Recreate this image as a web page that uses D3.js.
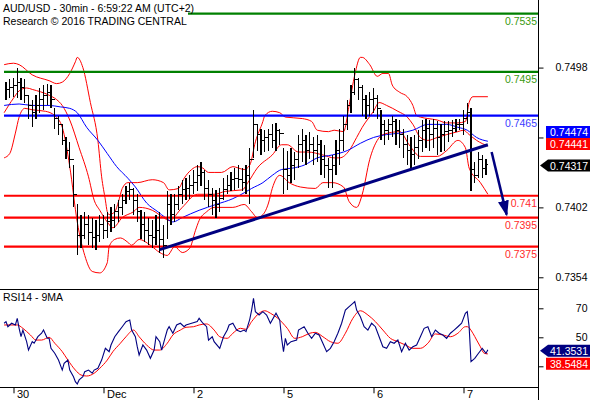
<!DOCTYPE html>
<html><head><meta charset="utf-8">
<script src="https://cdn.jsdelivr.net/npm/d3@7"></script>
<style>
html,body{margin:0;padding:0;background:#fff;}
svg{display:block;font-family:"Liberation Sans",Arial,sans-serif;}
</style></head><body>
<svg id="c" width="590" height="400"></svg>
<script>
// ---------- DATA (hourly index 0 = Nov 29 22:00) ----------
const titleLine1 = "AUD/USD - 30min - 6:59:22 AM (UTC+2)";
const titleLine2 = "Research \u00A9 2016 TRADING CENTRAL";
const rsiTitle = "RSI14 - 9MA";
const dayTicks = [2, 26, 50, 74, 98, 122];
const dayLabels = ["30", "Dec", "2", "5", "6", "7"];

const high = [0.7488,0.7490,0.7491,0.7498,0.7491,0.7490,0.7479,0.7476,0.7479,0.7484,
0.7486,0.7487,0.7486,0.7470,0.7465,0.7459,0.7450,0.7447,0.7431,0.7404,
0.7397,0.7399,0.7397,0.7395,0.7393,0.7397,0.7397,0.7399,0.7402,0.7404,
0.7407,0.7411,0.7417,0.7419,0.7415,0.7411,0.7400,0.7399,0.7395,0.7393,
0.7397,0.7399,0.7390,0.7413,0.7411,0.7411,0.7417,0.7421,0.7422,0.7424,
0.7428,0.7431,0.7433,0.7428,0.7421,0.7415,0.7414,0.7415,0.7422,0.7424,
0.7426,0.7429,0.7431,0.7429,0.7431,0.7443,0.7469,0.7459,0.7456,0.7455,
0.7456,0.7459,0.7460,0.7456,0.7443,0.7441,0.7443,0.7440,0.7452,0.7456,
0.7452,0.7454,0.7450,0.7452,0.7448,0.7445,0.7436,0.7438,0.7448,0.7456,
0.7465,0.7476,0.7486,0.7498,0.7491,0.7486,0.7479,0.7481,0.7484,0.7479,
0.7469,0.7462,0.7463,0.7465,0.7463,0.7462,0.7456,0.7452,0.7450,0.7452,
0.7455,0.7462,0.7463,0.7462,0.7463,0.7461,0.7459,0.7461,0.7461,0.7462,
0.7463,0.7463,0.7469,0.7474,0.7470,0.7433,0.7440,0.7438,0.7435];
const low = [0.7476,0.7477,0.7478,0.7477,0.7476,0.7474,0.7463,0.7457,0.7463,0.7467,
0.7469,0.7472,0.7470,0.7456,0.7452,0.7445,0.7435,0.7429,0.7402,0.7369,
0.7374,0.7380,0.7376,0.7374,0.7373,0.7378,0.7380,0.7381,0.7385,0.7388,
0.7392,0.7397,0.7404,0.7407,0.7397,0.7392,0.7380,0.7378,0.7376,0.7374,
0.7376,0.7371,0.7367,0.7380,0.7390,0.7392,0.7400,0.7404,0.7407,0.7408,
0.7411,0.7413,0.7417,0.7407,0.7402,0.7397,0.7395,0.7399,0.7407,0.7411,
0.7413,0.7414,0.7415,0.7413,0.7411,0.7404,0.7436,0.7441,0.7438,0.7440,
0.7441,0.7443,0.7441,0.7445,0.7411,0.7414,0.7419,0.7421,0.7429,0.7433,
0.7431,0.7435,0.7431,0.7433,0.7424,0.7422,0.7415,0.7415,0.7424,0.7431,
0.7441,0.7455,0.7467,0.7479,0.7476,0.7465,0.7463,0.7465,0.7467,0.7463,
0.7448,0.7445,0.7448,0.7450,0.7445,0.7443,0.7436,0.7431,0.7429,0.7431,
0.7435,0.7440,0.7443,0.7441,0.7443,0.7438,0.7440,0.7441,0.7447,0.7450,
0.7454,0.7455,0.7452,0.7459,0.7413,0.7419,0.7422,0.7422,0.7424];
const close = [0.7483,0.7484,0.7486,0.7488,0.7484,0.7479,0.7472,0.7467,0.7472,0.7476,
0.7479,0.7481,0.7476,0.7463,0.7459,0.7448,0.7441,0.7435,0.7411,0.7383,
0.7383,0.7390,0.7385,0.7381,0.7383,0.7390,0.7386,0.7392,0.7393,0.7399,
0.7402,0.7407,0.7413,0.7414,0.7407,0.7399,0.7390,0.7386,0.7383,0.7381,
0.7386,0.7380,0.7376,0.7404,0.7397,0.7404,0.7411,0.7414,0.7415,0.7417,
0.7419,0.7424,0.7426,0.7415,0.7411,0.7407,0.7404,0.7408,0.7414,0.7417,
0.7421,0.7422,0.7421,0.7419,0.7424,0.7435,0.7459,0.7452,0.7448,0.7450,
0.7452,0.7448,0.7455,0.7453,0.7428,0.7424,0.7431,0.7435,0.7445,0.7448,
0.7441,0.7445,0.7441,0.7445,0.7435,0.7431,0.7428,0.7431,0.7441,0.7448,
0.7459,0.7472,0.7481,0.7490,0.7484,0.7476,0.7472,0.7476,0.7477,0.7470,
0.7459,0.7455,0.7459,0.7461,0.7455,0.7452,0.7445,0.7441,0.7438,0.7443,
0.7448,0.7455,0.7456,0.7452,0.7456,0.7450,0.7452,0.7454,0.7455,0.7456,
0.7459,0.7459,0.7463,0.7467,0.7428,0.7424,0.7435,0.7429,0.74317];

const bbUpper = [[-0.5,0.7500],[2,0.7501],[3.5,0.7500],[7,0.7493],[11.5,0.7489],[13.5,0.7487],[15,0.7488],[17,0.7494],[18.5,0.7502],[19,0.7505],[20.5,0.7498],[22.5,0.7474],[24.5,0.7448],[25.5,0.7423],[26.5,0.7407],[27,0.7399],[27.5,0.7397],[29,0.7399],[30,0.7406],[31,0.7415],[32.5,0.7419],[35,0.7419],[39,0.7421],[42,0.7419],[43.5,0.7414],[46,0.7415],[47.5,0.7422],[49.5,0.7428],[51,0.7430],[52.5,0.7429],[54,0.7426],[55.5,0.7426],[57.5,0.7426],[60.5,0.7430],[62,0.7429],[63.5,0.7428],[65,0.7431],[66.5,0.7447],[68.5,0.7461],[69,0.7465],[71,0.7468],[73,0.7467],[74.5,0.7464],[79,0.7463],[81.5,0.7461],[83,0.7455],[86,0.7454],[87.5,0.7455],[90,0.7454],[91.5,0.7472],[93,0.7493],[94.5,0.7505],[95,0.7505],[97,0.7500],[99,0.7492],[100.5,0.7494],[102,0.7494],[103,0.7486],[105,0.7481],[107,0.7478],[108.5,0.7472],[109.5,0.7465],[110.5,0.7464],[112.5,0.7463],[115,0.7462],[117.5,0.7460],[120.5,0.7460],[122.5,0.7461],[123.5,0.7474],[124.5,0.7478],[128.5,0.7478]];
const bbMiddle = [[-0.5,0.7467],[2,0.7477],[3.5,0.7482],[5.5,0.7484],[7,0.7483],[11.5,0.7479],[13.5,0.7476],[15,0.7472],[17,0.7462],[19.5,0.7443],[22,0.7423],[23.5,0.7407],[25,0.7400],[27,0.7392],[28.5,0.7388],[31,0.7395],[34,0.7399],[35.5,0.7402],[39,0.7400],[42,0.7395],[43.5,0.7393],[47,0.7402],[51,0.7411],[55.5,0.7411],[58.5,0.7413],[63,0.7414],[64.5,0.7419],[67,0.7429],[71,0.7438],[73.5,0.7445],[75,0.7445],[78,0.7440],[80.5,0.7440],[84.5,0.7438],[87.5,0.7436],[89,0.7436],[91.5,0.7441],[93.5,0.7450],[95,0.7457],[98,0.7468],[99.5,0.7474],[101.5,0.7472],[104.5,0.7468],[107,0.7464],[108.5,0.7459],[110.5,0.7450],[112.5,0.7448],[115,0.7450],[117.5,0.7452],[120.5,0.7454],[122,0.7455],[123.5,0.7452],[125.5,0.7448],[128.5,0.74441]];
const bbLower = [[-0.5,0.7436],[1,0.7439],[2.5,0.7453],[3.5,0.7464],[5,0.7470],[7,0.7469],[10.5,0.7468],[13,0.7465],[15,0.7457],[17,0.7430],[19,0.7392],[21,0.7369],[23,0.7358],[25,0.7357],[27,0.7364],[27.5,0.7375],[29,0.7380],[30.5,0.7381],[32.5,0.7378],[33.5,0.7376],[35.5,0.7380],[38.5,0.7376],[41,0.7371],[43,0.7369],[45,0.7375],[47,0.7371],[49,0.7374],[50.5,0.7386],[51.5,0.7393],[53.5,0.7399],[55.5,0.7402],[60.5,0.7402],[63.5,0.7404],[65.5,0.7399],[67,0.7395],[68.5,0.7397],[70,0.7405],[71,0.7415],[73,0.7424],[75.5,0.7419],[78.5,0.7416],[82.5,0.7415],[84.5,0.7419],[87,0.7419],[90,0.7416],[91.5,0.7406],[93.5,0.7402],[95,0.7411],[97,0.7435],[99,0.7448],[100.5,0.7452],[105,0.7454],[107.5,0.7445],[110.5,0.7437],[115,0.7437],[117.5,0.7441],[120.5,0.7448],[122.5,0.7443],[123.5,0.7429],[126.5,0.7419],[128.5,0.7411]];
const maBlue = [[-0.5,0.7472],[3.5,0.7473],[7,0.7472],[11.5,0.7472],[14.5,0.7471],[17,0.7470],[19,0.7467],[21.5,0.7457],[24.5,0.7448],[27,0.7439],[29.5,0.7430],[32.5,0.7422],[34.5,0.7416],[37.5,0.7405],[40.5,0.7399],[42.5,0.7395],[44.5,0.7392],[47,0.7395],[51.5,0.7400],[56,0.7404],[60.5,0.7408],[63.5,0.7412],[65.5,0.7415],[68.5,0.7419],[71,0.7424],[73.5,0.7428],[76.5,0.7429],[79.5,0.7431],[83,0.7436],[87,0.7438],[91,0.7441],[94.5,0.7446],[98,0.7450],[101.5,0.7452],[105,0.7453],[108.5,0.7455],[112.5,0.7459],[115,0.7459],[117.5,0.7459],[120.5,0.7457],[123,0.7455],[125.5,0.7450],[128.5,0.74474]];

const levelValues = [0.7535, 0.7495, 0.7465, 0.741, 0.7395, 0.7375];
const levelKinds  = ["res", "res", "pivot", "sup", "sup", "sup"];
const priceTicks = [0.7498, 0.7450, 0.7402, 0.7354];
const hiddenPriceLabels = [0.7450];   // covered by value tags in the original
const trendLine = [[41, 0.7373], [128.5, 0.7445]];
const targetArrow = [[129.5, 0.7440], [133.5, 0.7397]];

const rsi = [[-0.5,59.7],[0,60.8],[0.5,57.3],[1.5,59.7],[2.5,58.5],[3,63.1],[3.5,56.2],[4,50.4],[4.5,55.0],[5.5,47.0],[6,41.2],[7,47.0],[7.5,45.9],[8.5,50.4],[9.5,52.8],[10,55.0],[11,49.3],[11.5,49.3],[12,42.4],[13,39.0],[14,34.3],[15,27.4],[15.5,32.1],[16.5,34.3],[17,27.4],[18,22.8],[18.5,19.4],[19,17.8],[19.5,20.6],[20.5,22.8],[21,26.3],[22,27.4],[23,25.2],[23.5,27.4],[24.5,28.6],[25.5,34.3],[26.5,42.4],[27.5,40.1],[28,44.7],[29,50.4],[30,53.9],[31,57.3],[32,60.8],[33,61.9],[33.5,55.0],[34.5,50.4],[35,43.5],[35.5,37.8],[36.5,44.7],[37.5,41.2],[38.5,35.5],[39.5,41.2],[40,50.4],[41,47.0],[41.5,41.2],[42.5,50.4],[43,55.0],[43.5,57.3],[44.5,52.8],[45.5,58.5],[46.5,59.7],[47.5,57.3],[48,58.5],[49.5,59.7],[51,60.8],[51.5,63.1],[52.5,59.7],[53.5,57.3],[54,48.1],[55,50.4],[55.5,47.0],[57,42.4],[58,50.4],[59,55.0],[59.5,58.5],[60.5,59.7],[61.5,55.0],[62.5,53.9],[63.5,55.0],[64,53.9],[65,62.4],[65.5,68.8],[66,76.9],[66.5,67.7],[67.5,65.4],[68.5,67.7],[69.5,65.4],[70.5,59.7],[72,66.6],[73,61.9],[73.5,49.3],[74,40.1],[74.5,49.3],[75,44.7],[76,47.0],[77.5,48.1],[78,55.0],[79.5,57.3],[80.5,52.8],[81.5,49.3],[82.5,52.8],[83.5,51.6],[84.5,45.9],[85.5,40.1],[86.5,42.4],[87.5,47.0],[88.5,52.8],[89.5,59.7],[90.5,68.8],[91.5,71.1],[92.5,73.4],[93,74.6],[93.5,68.8],[94.5,64.2],[95.5,57.3],[96.5,55.0],[97.5,59.7],[98.5,57.3],[99.5,50.4],[100.5,43.5],[101.5,42.4],[102.5,47.0],[103.5,45.9],[104.5,48.1],[105.5,40.1],[106.5,45.9],[107.5,41.2],[108.5,43.5],[109.5,44.7],[110.5,50.4],[111.5,56.2],[112.5,57.3],[113.5,50.4],[114.5,55.0],[115.5,52.8],[116.5,51.6],[117.5,49.3],[118.5,52.8],[119.5,55.0],[120.5,57.3],[121.5,59.7],[122.5,66.6],[123,67.7],[123.5,57.3],[124,33.2],[125,35.5],[126,39.0],[127,42.4],[128,39.0],[128.5,41.3531]];
const rsiMA = [[-0.5,58.5],[3,58.5],[4.5,56.2],[6.5,51.6],[8,48.1],[9.5,48.1],[11.5,50.0],[13,45.9],[15,40.1],[16.5,34.3],[18.5,27.4],[20,24.0],[21.5,23.3],[23.5,25.2],[25,28.6],[27,34.3],[28.5,40.1],[30.5,45.9],[32,50.4],[34,55.0],[35.5,50.4],[37.5,44.7],[39.5,41.2],[41,41.2],[43,45.9],[44.5,51.6],[46.5,55.0],[48,56.9],[50,57.3],[51.5,58.5],[53.5,59.2],[55.5,55.0],[57,50.4],[59,49.3],[60.5,52.8],[62.5,56.2],[64,55.5],[65.5,60.8],[67.5,66.6],[69,68.3],[70.5,66.6],[72.5,63.1],[75,56.2],[77,49.3],[79,50.4],[81,52.8],[82.5,53.4],[84.5,50.4],[86.5,47.0],[88.5,45.9],[90.5,52.8],[92.5,63.1],[94.5,68.3],[96.5,65.4],[98.5,60.8],[100.5,55.0],[102.5,49.3],[104.5,47.0],[106.5,44.7],[108.5,42.4],[110.5,42.4],[112.5,45.9],[114.5,52.3],[116.5,51.6],[118.5,50.4],[120.5,52.8],[122.5,57.3],[123,57.3],[124.5,52.8],[125.5,48.1],[126.5,43.5],[127.5,39.0],[128.5,38.5484]];
const rsiTicks = [70, 50, 30];
const hiddenRsiLabels = [30];        // covered by value tags in the original

const lastPrice = 0.74317, lastMA = 0.74474, lastMid = 0.74441;
const lastRSI = 41.3531, lastRSIMA = 38.5484;

// ---------- LAYOUT ----------
const W = 590, H = 400, axisX = 538, pricePanelBottom = 289.3, rsiBottom = 387.3;
const FONT = 10.5;
const col = {res:"#008000", pivot:"#0000ff", sup:"#ff0000"};
const lblCol = {res:"#3a9a10", pivot:"#3b3bff", sup:"#ff2a2a"};

const svg = d3.select("#c");
const x = d3.scaleLinear().domain([0, 128]).range([6, 486]);
const y = d3.scaleLinear().domain([0.7535, 0.7375]).range([13.7, 246.7]);
const yr = d3.scaleLinear().domain([70, 50]).range([308.3, 337.3]);

const defs = svg.append("defs");
defs.append("clipPath").attr("id","pc").append("rect").attr("x",0).attr("y",0).attr("width",axisX).attr("height",pricePanelBottom);
defs.append("clipPath").attr("id","rc").append("rect").attr("x",0).attr("y",pricePanelBottom+1).attr("width",axisX).attr("height",rsiBottom-pricePanelBottom-1);
defs.append("marker").attr("id","ah").attr("markerUnits","userSpaceOnUse")
  .attr("viewBox","0 0 16 11").attr("markerWidth",16).attr("markerHeight",11)
  .attr("refX",14).attr("refY",5.5).attr("orient","auto")
  .append("path").attr("d","M0,0 L16,5.5 L0,11 Z").attr("fill","#000080");

const pp = svg.append("g").attr("clip-path","url(#pc)");
const lineP = d3.line().x(d=>x(d[0])).y(d=>y(d[1])).curve(d3.curveMonotoneX);

// bands & MA
[bbUpper, bbMiddle, bbLower].forEach(s=>{
  pp.append("path").attr("d", lineP(s)).attr("fill","none").attr("stroke","#ff0000").attr("stroke-width",1);
});
pp.append("path").attr("d", lineP(maBlue)).attr("fill","none").attr("stroke","#0000ff").attr("stroke-width",1);

// level lines
pp.selectAll("line.lvl").data(levelValues).join("line").attr("class","lvl")
  .attr("x1",4).attr("x2",axisX).attr("y1",d=>y(d)).attr("y2",d=>y(d))
  .attr("stroke",(d,i)=>col[levelKinds[i]]).attr("stroke-width",2.2);

// OHLC bars (open = previous close)
const bars = pp.append("g").attr("stroke","#000").attr("shape-rendering","crispEdges");
high.forEach((h,i)=>{
  const cx = x(i);
  bars.append("line").attr("x1",cx).attr("x2",cx).attr("y1",y(h)).attr("y2",y(low[i])).attr("stroke-width",1.4);
  bars.append("line").attr("x1",cx).attr("x2",cx+1.8).attr("y1",y(close[i])).attr("y2",y(close[i])).attr("stroke-width",1);
  if(i>0) bars.append("line").attr("x1",cx-1.8).attr("x2",cx).attr("y1",y(close[i-1])).attr("y2",y(close[i-1])).attr("stroke-width",1);
});

// trendline & arrow
const lineL = d3.line().x(d=>x(d[0])).y(d=>y(d[1]));
pp.append("path").attr("d", lineL(trendLine)).attr("stroke","#000080").attr("stroke-width",3).attr("fill","none");
svg.append("path").attr("d", lineL(targetArrow)).attr("stroke","#000080").attr("stroke-width",2.5).attr("fill","none").attr("marker-end","url(#ah)");

// level labels
svg.selectAll("text.lvl").data(levelValues).join("text").attr("class","lvl")
  .attr("x",537).attr("y",d=>y(d)+11.5).attr("text-anchor","end")
  .attr("font-size",FONT).attr("fill",(d,i)=>lblCol[levelKinds[i]]).text(d=>String(d));

// title with white background
svg.append("rect").attr("x",0).attr("y",0).attr("width",188).attr("height",27).attr("fill","#fff");
svg.append("text").attr("x",3).attr("y",11.5).attr("font-size",FONT).attr("fill","#000").text(titleLine1);
svg.append("text").attr("x",3).attr("y",24.5).attr("font-size",FONT).attr("fill","#000").text(titleLine2);

// RSI panel
const rp = svg.append("g").attr("clip-path","url(#rc)");
rp.append("path").attr("d", d3.line().x(d=>x(d[0])).y(d=>yr(d[1])).curve(d3.curveMonotoneX)(rsiMA)).attr("fill","none").attr("stroke","#ff0000").attr("stroke-width",1);
rp.append("path").attr("d", d3.line().x(d=>x(d[0])).y(d=>yr(d[1]))(rsi)).attr("fill","none").attr("stroke","#000080").attr("stroke-width",1.1);
svg.append("text").attr("x",3).attr("y",300.5).attr("font-size",FONT).attr("fill","#000").text(rsiTitle);

// frame lines
const fr = svg.append("g").attr("stroke","#000").attr("stroke-width",1).attr("shape-rendering","crispEdges");
fr.append("line").attr("x1",axisX+0.5).attr("x2",axisX+0.5).attr("y1",0).attr("y2",H);
fr.append("line").attr("x1",0).attr("x2",axisX).attr("y1",pricePanelBottom).attr("y2",pricePanelBottom);
fr.append("line").attr("x1",0).attr("x2",axisX).attr("y1",rsiBottom).attr("y2",rsiBottom);

// price axis
const fmtP = d3.format(".4f");
const pa = svg.append("g").attr("transform",`translate(${axisX+0.5},0)`)
  .call(d3.axisRight(y).tickValues(priceTicks).tickSize(5).tickFormat(d => hiddenPriceLabels.includes(d) ? "" : fmtP(d)));
pa.select(".domain").remove();
pa.selectAll("text").attr("x",49).attr("text-anchor","end").attr("font-size",FONT).attr("font-family",null).attr("fill","#000");
pa.selectAll("line").attr("stroke","#000");

// RSI axis
const ra = svg.append("g").attr("transform",`translate(${axisX+0.5},0)`)
  .call(d3.axisRight(yr).tickValues(rsiTicks).tickSize(5).tickFormat(d => hiddenRsiLabels.includes(d) ? "" : d3.format("d")(d)));
ra.select(".domain").remove();
ra.selectAll("text").attr("x",49).attr("text-anchor","end").attr("font-size",FONT).attr("font-family",null).attr("fill","#000");

// time axis
const ta = svg.append("g").attr("transform",`translate(0,${rsiBottom})`)
  .call(d3.axisBottom(x).tickValues(dayTicks).tickSize(6).tickFormat((d,i)=>dayLabels[i]));
ta.select(".domain").remove();
ta.selectAll("text").attr("x",3).attr("y",3).attr("text-anchor","start").attr("font-size",FONT+0.5).attr("font-family",null).attr("fill","#000");

// value tags
function tag(cy, txt, fill, arrow){
  const g = svg.append("g");
  const t = cy-6, b = cy+6, left = arrow ? 548 : 546;
  const d = arrow ? `M540,${cy} L${left},${t} L590,${t} L590,${b} L${left},${b} Z`
                  : `M${left},${t} L590,${t} L590,${b} L${left},${b} Z`;
  g.append("path").attr("d",d).attr("fill",fill);
  g.append("text").attr("x",588).attr("y",cy+4).attr("text-anchor","end").attr("font-size",FONT).attr("fill","#fff").text(txt);
}
tag(y(lastMA)-9.3, d3.format(".5f")(lastMA), "#0000ff", false);
tag(y(lastMid)-2, d3.format(".5f")(lastMid), "#ff0000", false);
tag(y(lastPrice)+1.4, d3.format(".5f")(lastPrice), "#000000", true);
tag(yr(lastRSI)+1, d3.format(".4f")(lastRSI), "#000080", true);
tag(yr(lastRSIMA)+9.8, d3.format(".4f")(lastRSIMA), "#ff0000", false);
</script>
</body></html>
